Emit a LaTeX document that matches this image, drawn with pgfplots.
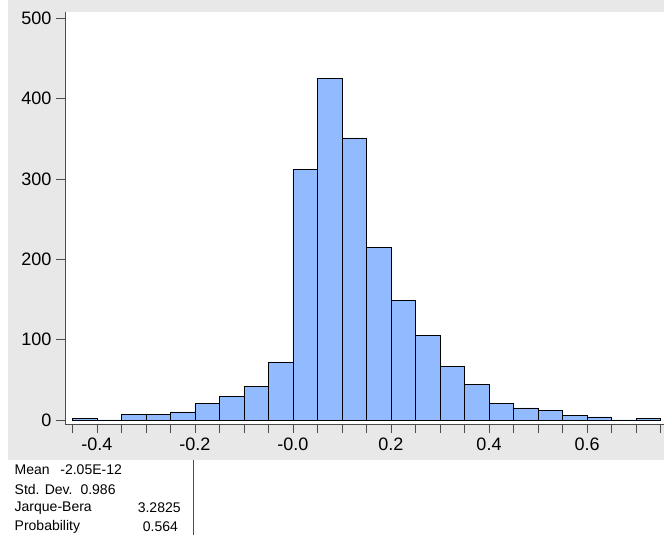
\documentclass[border=0pt]{standalone}
\usepackage{pgfplots}
\pgfplotsset{compat=1.18}
\usepackage{fontspec}
\setmainfont{Liberation Sans}
\begin{document}
\begin{tikzpicture}
\useasboundingbox (0pt,0pt) rectangle (498pt,-401.25pt);
\fill[gray!18] (6pt,0pt) rectangle (498pt,-345pt);
\fill[white] (48.75pt,-9pt) rectangle (498pt,-318pt);
\begin{axis}[at={(48.75pt,-318pt)},anchor=south west,scale only axis,
 width=449.25pt,height=309pt,
 xmin=-0.465,xmax=0.757,ymin=-5,ymax=507.5,
 axis lines*=left, axis line style={gray!60!black},
 tick align=outside, tick style={gray!60!black},
 major tick length=6.75pt, minor tick length=6.75pt,
 xtick={-0.4,-0.2,0,0.2,0.4,0.6},
 xticklabels={-0.4,-0.2,-0.0,0.2,0.4,0.6},
 minor xtick={-0.45,-0.35,-0.3,-0.25,-0.15,-0.1,-0.05,0.05,0.1,0.15,0.25,0.3,0.35,0.45,0.5,0.55,0.65,0.7,0.75},
 ytick={0,100,200,300,400,500},
 /pgf/number format/assume math mode=true,
 ticklabel style={font=\fontsize{13.5}{15}\selectfont},
 clip=false]
\addplot[ybar interval, fill={rgb,255:red,146;green,186;blue,255}, draw=black] coordinates {
(-0.45,2)(-0.40,0)(-0.35,7)(-0.30,7)(-0.25,10)(-0.20,21)(-0.15,29)(-0.10,42)(-0.05,72)
(0.00,312)(0.05,425)(0.10,351)(0.15,215)(0.20,149)(0.25,105)(0.30,67)(0.35,44)
(0.40,21)(0.45,15)(0.50,12)(0.55,6)(0.60,4)(0.65,0)(0.70,2)(0.75,2)};
\end{axis}
\draw[gray!60!black] (144.75pt,-345pt) -- (144.75pt,-401.25pt);
\begin{scope}[font=\fontsize{10.5}{12}\selectfont]
\node[anchor=west] at (7.5pt,-352.5pt) {Mean\hspace{8pt}-2.05E-12};
\node[anchor=west] at (7.5pt,-366.75pt) {Std. Dev.\hspace{6pt}0.986};
\node[anchor=west] at (7.5pt,-381pt) {Jarque-Bera};
\node[anchor=east] at (139pt,-381pt) {3.2825};
\node[anchor=west] at (7.5pt,-395.25pt) {Probability};
\node[anchor=east] at (137pt,-395.25pt) {0.564};
\end{scope}
\end{tikzpicture}
\end{document}
